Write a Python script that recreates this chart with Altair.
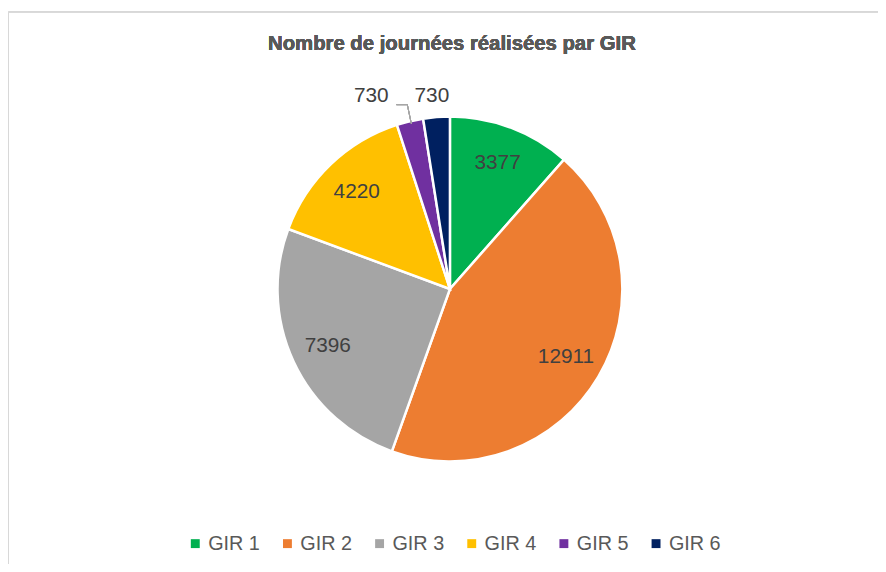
import altair as alt
import pandas as pd

categories = ["GIR 1", "GIR 2", "GIR 3", "GIR 4", "GIR 5", "GIR 6"]
values = [3377, 12911, 7396, 4220, 730, 730]
colors = ["#00B050", "#ED7D31", "#A5A5A5", "#FFC000", "#7030A0", "#002060"]
title_text = "Nombre de journées réalisées par GIR"

df = pd.DataFrame({"cat": categories, "value": values})

FONT = "Liberation Sans, Arial, sans-serif"
CX, CY, R = 446, 281, 174

base = alt.Chart(df).encode(
    theta=alt.Theta("value:Q", stack=True),
    order=alt.Order("cat:N", sort="ascending"),
    x=alt.value(CX),
    y=alt.value(CY),
)

pie = base.mark_arc(outerRadius=R, stroke="white", strokeWidth=2.5).encode(
    color=alt.Color(
        "cat:N",
        scale=alt.Scale(domain=categories, range=colors),
        legend=alt.Legend(
            title=None,
            orient="none",
            direction="horizontal",
            columns=6,
            legendX=179,
            legendY=528,
            symbolType="square",
            symbolSize=81,
            symbolStrokeWidth=0,
            labelFont=FONT,
            labelFontSize=20,
            labelColor="#595959",
            labelOffset=3,
            columnPadding=17,
        ),
    )
)

LBL = dict(font=FONT, fontSize=21, color="#404040", baseline="middle")
inner = base.mark_text(radius=136, **LBL).encode(
    text=alt.condition("indexof(['GIR 1','GIR 2','GIR 3','GIR 4'], datum.cat) >= 0", alt.Text("value:Q"), alt.value(""))
)
gir6 = base.mark_text(radius=195, dx=-3, **LBL).encode(
    text=alt.condition("datum.cat == 'GIR 6'", alt.Text("value:Q"), alt.value(""))
)
gir5 = base.mark_text(radius=200, dx=-33, **LBL).encode(
    text=alt.condition("datum.cat == 'GIR 5'", alt.Text("value:Q"), alt.value(""))
)

leader1 = alt.Chart(df).mark_rule(color="#A6A6A6", strokeWidth=1).encode(
    x=alt.value(392), x2=alt.value(403), y=alt.value(95), y2=alt.value(95)
)
leader2 = alt.Chart(df).mark_rule(color="#A6A6A6", strokeWidth=1).encode(
    x=alt.value(403), x2=alt.value(407), y=alt.value(95), y2=alt.value(114)
)

border = alt.Chart(df).mark_rect(fill=None, stroke="#D9D9D9", strokeWidth=1).encode(
    x=alt.value(0.5), x2=alt.value(1000), y=alt.value(1.5), y2=alt.value(1000)
)

title = alt.Chart(df).mark_text(
    text=title_text, font=FONT, fontSize=20.5, fontWeight="bold", color="#595959", baseline="middle", align="center"
).encode(x=alt.value(448), y=alt.value(34))

chart = alt.layer(border, pie, inner, gir6, gir5, leader1, leader2, title).properties(
    width=878, height=556, padding=0, autosize=alt.AutoSizeParams(type="none")
).configure_view(stroke=None)

chart.save("out.html", embed_options={"renderer": "svg", "actions": False})
